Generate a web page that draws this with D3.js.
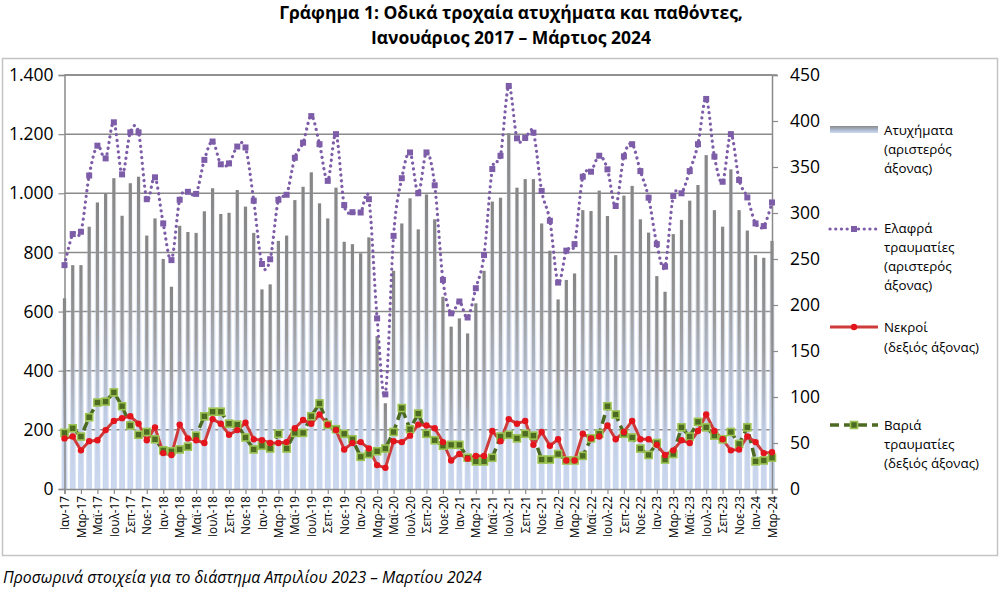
<!DOCTYPE html>
<html><head><meta charset="utf-8">
<script src="https://cdn.jsdelivr.net/npm/d3@7"></script>
<style>
html,body{margin:0;padding:0;background:#fff;}
svg{display:block;font-family:"Open Sans",sans-serif;}
</style></head>
<body>
<svg id="chart" width="1000" height="589"></svg>
<script>
const categories = [
"Ιαν-17","Φεβ-17","Μαρ-17","Απρ-17","Μαϊ-17","Ιουν-17","Ιουλ-17","Αυγ-17","Σεπ-17","Οκτ-17","Νοε-17","Δεκ-17",
"Ιαν-18","Φεβ-18","Μαρ-18","Απρ-18","Μαϊ-18","Ιουν-18","Ιουλ-18","Αυγ-18","Σεπ-18","Οκτ-18","Νοε-18","Δεκ-18",
"Ιαν-19","Φεβ-19","Μαρ-19","Απρ-19","Μαϊ-19","Ιουν-19","Ιουλ-19","Αυγ-19","Σεπ-19","Οκτ-19","Νοε-19","Δεκ-19",
"Ιαν-20","Φεβ-20","Μαρ-20","Απρ-20","Μαϊ-20","Ιουν-20","Ιουλ-20","Αυγ-20","Σεπ-20","Οκτ-20","Νοε-20","Δεκ-20",
"Ιαν-21","Φεβ-21","Μαρ-21","Απρ-21","Μαϊ-21","Ιουν-21","Ιουλ-21","Αυγ-21","Σεπ-21","Οκτ-21","Νοε-21","Δεκ-21",
"Ιαν-22","Φεβ-22","Μαρ-22","Απρ-22","Μαϊ-22","Ιουν-22","Ιουλ-22","Αυγ-22","Σεπ-22","Οκτ-22","Νοε-22","Δεκ-22",
"Ιαν-23","Φεβ-23","Μαρ-23","Απρ-23","Μαϊ-23","Ιουν-23","Ιουλ-23","Αυγ-23","Σεπ-23","Οκτ-23","Νοε-23","Δεκ-23",
"Ιαν-24","Φεβ-24","Μαρ-24"];

// Ατυχήματα (left axis)
const accidents = [
645,757,757,887,969,1000,1051,924,1034,1056,857,915,
778,684,890,869,866,939,1017,930,934,1011,955,866,
675,692,839,857,977,1022,1071,966,915,1019,836,828,
797,851,517,290,738,898,983,878,996,912,650,549,
577,526,628,738,972,985,1203,1019,1048,1048,898,806,
641,707,729,943,940,1009,923,791,992,1025,912,867,
720,667,862,910,975,1028,1129,943,887,1081,943,874,
791,782,839];

// Ελαφρά τραυματίες (left axis)
const lightInjured = [
757,862,870,1060,1161,1118,1240,1064,1206,1206,980,1054,
898,774,978,1005,998,1113,1175,1098,1101,1158,1155,975,
761,777,978,995,1120,1171,1261,1166,1042,1200,960,936,
935,980,577,320,856,1051,1138,1000,1138,1027,707,594,
634,580,679,791,1082,1127,1363,1186,1187,1205,1008,907,
698,806,828,1056,1073,1127,1081,957,1125,1166,1075,985,
828,752,991,1000,1075,1166,1319,1124,1039,1200,1045,986,
898,889,969];

// Νεκροί (right axis)
const deaths = [
55,57,42,52,53,64,74,77,79,71,53,67,
39,37,70,55,53,50,76,71,59,64,72,54,
53,50,50,51,66,75,71,81,70,64,43,50,
51,44,26,23,52,51,58,70,69,66,51,31,
38,33,36,36,63,52,76,71,74,48,62,47,
54,31,31,60,55,57,69,54,62,74,54,54,
48,37,42,53,50,63,81,63,54,42,43,57,
51,39,40];

// Βαριά τραυματίες (right axis)
const seriousInjured = [
61,66,57,78,94,95,105,90,69,59,62,54,
42,41,43,46,58,79,84,84,71,70,56,43,
47,44,60,44,61,61,79,93,70,65,60,54,
35,38,41,44,62,88,65,82,60,53,47,48,
48,34,30,30,34,57,59,55,60,58,32,32,
38,31,31,36,55,60,90,81,60,56,44,37,
50,32,38,67,57,73,67,58,54,62,49,67,
30,31,34];

const leftTicks = [0,200,400,600,800,1000,1200,1400];
const rightTicks = [0,50,100,150,200,250,300,350,400,450];

const svg = d3.select("#chart");
const L = 64.5, R = 772, T = 75, B = 489;

const x = d3.scalePoint().domain(categories).range([L, R]);
const yL = d3.scaleLinear().domain([0, 1400]).range([B, T]);
const yR = d3.scaleLinear().domain([0, 450]).range([B, T]);

const defs = svg.append("defs");
const core = defs.append("linearGradient").attr("id","coreGrad")
  .attr("x1",0).attr("y1",0).attr("x2",0).attr("y2",1);
core.append("stop").attr("offset","0%").attr("stop-color","#868686");
core.append("stop").attr("offset","40%").attr("stop-color","#9c9c9c");
core.append("stop").attr("offset","75%").attr("stop-color","#bfcbe2");
core.append("stop").attr("offset","100%").attr("stop-color","#cdd9ef");
const halo = defs.append("linearGradient").attr("id","haloGrad")
  .attr("x1",0).attr("y1",0).attr("x2",0).attr("y2",1);
halo.append("stop").attr("offset","0%").attr("stop-color","#c9d6ee").attr("stop-opacity",0.05);
halo.append("stop").attr("offset","45%").attr("stop-color","#c9d6ee").attr("stop-opacity",0.5);
halo.append("stop").attr("offset","100%").attr("stop-color","#c6d4ee").attr("stop-opacity",1);

const lgGrad = defs.append("linearGradient").attr("id","legGrad")
  .attr("x1",0).attr("y1",0).attr("x2",0).attr("y2",1);
lgGrad.append("stop").attr("offset","0%").attr("stop-color","#8a8a8a");
lgGrad.append("stop").attr("offset","45%").attr("stop-color","#a5b0c4");
lgGrad.append("stop").attr("offset","100%").attr("stop-color","#cddcf2");

// outer frame
svg.append("rect").attr("x",2.5).attr("y",58.5).attr("width",995).attr("height",497)
  .attr("fill","none").attr("stroke","#c4c4c4").attr("stroke-width",1.5);

// title
svg.append("text").attr("x",511).attr("y",19).attr("text-anchor","middle")
  .attr("font-size",17.5).attr("font-weight","bold").attr("fill","#000")
  .text("Γράφημα 1: Οδικά τροχαία ατυχήματα και παθόντες,");
svg.append("text").attr("x",511).attr("y",44).attr("text-anchor","middle")
  .attr("font-size",17.5).attr("font-weight","bold").attr("fill","#000")
  .text("Ιανουάριος 2017 – Μάρτιος 2024");

// gridlines
svg.append("g").selectAll("line").data(leftTicks.filter(d => d > 0)).join("line")
  .attr("x1",L).attr("x2",R).attr("y1",d => yL(d)).attr("y2",d => yL(d))
  .attr("stroke","#8a8a8a").attr("stroke-width",1.5);

// bars: pale halo + darker core
svg.append("g").selectAll("rect").data(accidents).join("rect")
  .attr("x",(d,i) => x(categories[i]) - 2.9)
  .attr("width",5.8)
  .attr("y",d => yL(d))
  .attr("height",d => yL(0) - yL(d))
  .attr("fill","url(#haloGrad)");
svg.append("g").selectAll("rect").data(accidents).join("rect")
  .attr("x",(d,i) => x(categories[i]) - 1.6)
  .attr("width",3.2)
  .attr("y",d => yL(d))
  .attr("height",d => yL(0) - yL(d))
  .attr("fill","url(#coreGrad)");

// axes
const fmt = d3.formatLocale({decimal:",", thousands:".", grouping:[3], currency:["","€"]}).format(",");
const axL = svg.append("g").attr("transform",`translate(${L},0)`)
  .call(d3.axisLeft(yL).tickValues(leftTicks).tickFormat(fmt).tickSize(6).tickPadding(5));
const axR = svg.append("g").attr("transform",`translate(${R},0)`)
  .call(d3.axisRight(yR).tickValues(rightTicks).tickSize(6).tickPadding(12));
const axB = svg.append("g").attr("transform",`translate(0,${B})`)
  .call(d3.axisBottom(x).tickValues(categories.filter((d,i) => i % 2 === 0)).tickSize(5));
[axL, axR, axB].forEach(g => {
  g.selectAll(".domain").attr("stroke","#8a8a8a").attr("stroke-width",1.5);
  g.selectAll(".tick line").attr("stroke","#8a8a8a").attr("stroke-width",1.2);
});
axL.selectAll("text").attr("font-size",17.5).attr("fill","#000").attr("font-family","Open Sans");
axR.selectAll("text").attr("font-size",17.5).attr("fill","#000").attr("font-family","Open Sans");
axB.selectAll("text").attr("font-size",11.8).attr("fill","#000").attr("font-family","Open Sans")
  .attr("text-anchor","end").attr("transform","rotate(-90)")
  .attr("x",-7).attr("y",0).attr("dy","0.35em");
// top border
svg.append("line").attr("x1",L).attr("x2",R+5).attr("y1",T).attr("y2",T)
  .attr("stroke","#8a8a8a").attr("stroke-width",1.5);

// light injured: smoothed dotted line with square markers
const purple = "#7d5ca8";
const lineL = d3.line().x((d,i) => x(categories[i])).y(d => yL(d)).curve(d3.curveCardinal.tension(0));
svg.append("path").datum(lightInjured).attr("d",lineL).attr("fill","none")
  .attr("stroke",purple).attr("stroke-width",3.2).attr("stroke-linecap","round")
  .attr("stroke-dasharray","0.1,5.6");
svg.append("g").selectAll("rect").data(lightInjured).join("rect")
  .attr("x",(d,i) => x(categories[i]) - 3).attr("y",d => yL(d) - 3)
  .attr("width",6).attr("height",6).attr("fill",purple);

// serious injured: dashed green with square markers
const green = "#4d6a22";
const lineR = d3.line().x((d,i) => x(categories[i])).y(d => yR(d));
svg.append("path").datum(seriousInjured).attr("d",lineR).attr("fill","none")
  .attr("stroke",green).attr("stroke-width",3.5).attr("stroke-dasharray","9,5");

// deaths: red line with circles
const red = "#cf3b3b";
svg.append("path").datum(deaths).attr("d",lineR).attr("fill","none")
  .attr("stroke",red).attr("stroke-width",3).attr("stroke-linejoin","round");
svg.append("g").selectAll("rect").data(seriousInjured).join("rect")
  .attr("x",(d,i) => x(categories[i]) - 3.5).attr("y",d => yR(d) - 3.5)
  .attr("width",7).attr("height",7).attr("fill",green)
  .attr("stroke","#9cc452").attr("stroke-width",1.6);
svg.append("g").selectAll("circle").data(deaths).join("circle")
  .attr("cx",(d,i) => x(categories[i])).attr("cy",d => yR(d)).attr("r",3.2)
  .attr("fill","#e3141c");

// legend
const lg = svg.append("g").attr("font-size",13.3).attr("fill","#000");
const lx = 830, lw = 48, tx = 884;
lg.append("rect").attr("x",lx).attr("y",126).attr("width",lw).attr("height",7).attr("fill","url(#legGrad)");
[["Ατυχήματα",130],["(αριστερός",149],["άξονας)",168]].forEach(([t,y]) =>
  lg.append("text").attr("x",tx).attr("y",y).attr("dy","0.35em").text(t));

lg.append("line").attr("x1",lx).attr("x2",lx+lw).attr("y1",229).attr("y2",229)
  .attr("stroke",purple).attr("stroke-width",3.2).attr("stroke-linecap","round").attr("stroke-dasharray","0.1,5.6");
lg.append("rect").attr("x",lx+lw/2-3).attr("y",226).attr("width",6).attr("height",6).attr("fill",purple);
[["Ελαφρά",228],["τραυματίες",247],["(αριστερός",266],["άξονας)",285]].forEach(([t,y]) =>
  lg.append("text").attr("x",tx).attr("y",y).attr("dy","0.35em").text(t));

lg.append("line").attr("x1",lx).attr("x2",lx+lw).attr("y1",327).attr("y2",327)
  .attr("stroke",red).attr("stroke-width",3);
lg.append("circle").attr("cx",lx+lw/2).attr("cy",327).attr("r",3.2).attr("fill","#e3141c");
[["Νεκροί",327],["(δεξιός άξονας)",347]].forEach(([t,y]) =>
  lg.append("text").attr("x",tx).attr("y",y).attr("dy","0.35em").text(t));

lg.append("line").attr("x1",lx).attr("x2",lx+lw).attr("y1",425).attr("y2",425)
  .attr("stroke",green).attr("stroke-width",3.5).attr("stroke-dasharray","9,5");
lg.append("rect").attr("x",lx+lw/2-3.5).attr("y",421.5).attr("width",7).attr("height",7)
  .attr("fill",green).attr("stroke","#9cc452").attr("stroke-width",1.6);
[["Βαριά",425],["τραυματίες",444],["(δεξιός άξονας)",463]].forEach(([t,y]) =>
  lg.append("text").attr("x",tx).attr("y",y).attr("dy","0.35em").text(t));

// footnote
svg.append("text").attr("x",3).attr("y",583).attr("font-size",15.8).attr("font-style","italic")
  .attr("fill","#000").text("Προσωρινά στοιχεία για το διάστημα Απριλίου 2023 – Μαρτίου 2024");
</script>
</body></html>
